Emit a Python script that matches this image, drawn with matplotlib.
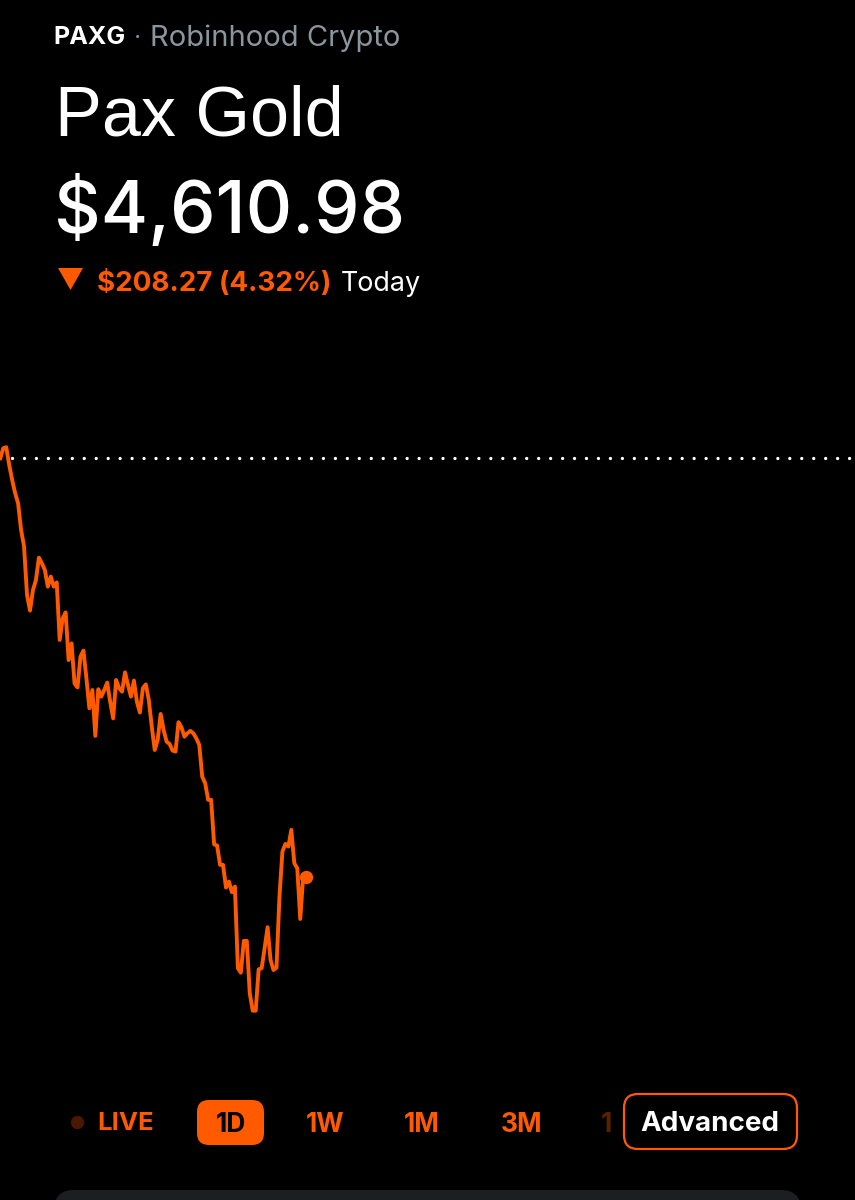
import matplotlib
matplotlib.use('Agg')
import matplotlib.pyplot as plt
from matplotlib.patches import FancyBboxPatch, Polygon

plt.rcParams['font.family'] = ['Inter', 'DejaVu Sans']
plt.rcParams['lines.scale_dashes'] = False

ORANGE = '#ff5a00'

symbol = 'PAXG'
source = 'Robinhood Crypto'
name = 'Pax Gold'
price_text = '$4,610.98'
change_text = '$208.27 (4.32%)'
prev_close = 4819.25

# one price every 5 minutes
prices = [
    4819.1, 4824.1, 4824.6, 4815.8, 4808.3, 4801.7, 4796.7, 4783.5, 4775.2, 4751.1,
    4743.4, 4753.6, 4758.6, 4769.7, 4766.9, 4763.6, 4755.3, 4760.3, 4755.3, 4757.4,
    4728.8, 4739.5, 4742.5, 4718.8, 4727.1, 4707.2, 4705.2, 4720.5, 4723.5, 4709.7,
    4694.8, 4703.9, 4681.1, 4704.3, 4700.6, 4703.9, 4707.6, 4698.1, 4689.8, 4708.9,
    4704.8, 4703.1, 4712.7, 4706.4, 4700.6, 4708.6, 4698.1, 4692.7, 4704.8, 4706.7,
    4699.0, 4685.7, 4674.1, 4679.1, 4692.0, 4684.0, 4678.2, 4677.1, 4673.8, 4673.3,
    4687.9, 4685.4, 4680.7, 4682.4, 4683.6, 4682.4, 4679.9, 4676.6, 4660.8, 4657.5,
    4649.3, 4649.3, 4627.2, 4626.6, 4617.0, 4617.0, 4605.7, 4608.7, 4603.4, 4606.2,
    4565.6, 4563.4, 4579.2, 4579.2, 4553.2, 4544.5, 4544.5, 4565.1, 4565.6, 4575.5,
    4586.0, 4569.7, 4564.7, 4565.9, 4601.2, 4623.6, 4627.4, 4626.1, 4634.4, 4617.8,
    4615.3, 4590.1, 4611.2, 4610.98,
]

ranges = ['1W', '1M', '3M']
range_x = [325, 422, 522]

fig = plt.figure(figsize=(8.55, 12), dpi=100, facecolor='black')

# chart
ax = fig.add_axes([0, 0, 1, 1])
ax.set_facecolor('black')
ax.set_xlim(-0.1, 287.8)
ax.set_ylim(4450.4, 5046.9)
ax.axis('off')
ax.plot([3.9, 287.8], [prev_close, prev_close], color='white', lw=2.4,
        ls=(0, (0.01, 8.6)), dash_capstyle='round')
ax.plot(range(len(prices)), prices, color=ORANGE, lw=2.8, solid_joinstyle='round')
ax.plot(len(prices) - 1, prices[-1], 'o', color=ORANGE, ms=9.6, mew=0)

# screen elements, in pixels
ui = fig.add_axes([0, 0, 1, 1])
ui.set_xlim(0, 855)
ui.set_ylim(1200, 0)
ui.axis('off')
ui.patch.set_alpha(0)

ui.text(53, 38, symbol, color='white', fontsize=18, fontweight='bold', va='center')
ui.text(134, 38, '·', color='#8a969e', fontsize=18, va='center')
ui.text(150, 38, source, color='#8a969e', fontsize=21, va='center')
ui.text(55, 135, name, color='white', fontsize=50.5, va='baseline', family='Liberation Sans')
ui.text(54, 233, price_text, color='white', fontsize=52, fontweight='medium', va='baseline')
ui.add_patch(Polygon([(58, 268), (83, 268), (70.5, 290)], color=ORANGE, lw=0))
ui.text(97, 291, change_text, color=ORANGE, fontsize=20, fontweight='bold', va='baseline')
ui.text(341, 291, 'Today', color='white', fontsize=19.4, va='baseline')

# range selector
ui.plot(77, 1122, 'o', color='#4a1800', ms=9.6, mew=0)
ui.text(97, 1124, 'LIVE', color=ORANGE, fontsize=18.5, fontweight='bold', va='center')
ui.add_patch(FancyBboxPatch((197 + 12, 1100 + 12), 67 - 24, 45 - 24,
                            boxstyle='round,pad=12', fc=ORANGE, ec='none'))
ui.text(230.5, 1125, '1D', color='black', fontsize=19, fontweight='bold', va='center', ha='center')
for label, x in zip(ranges, range_x):
    ui.text(x, 1125, label, color=ORANGE, fontsize=19, fontweight='bold', va='center', ha='center')
ui.text(601, 1125, '1', color='#5a2000', fontsize=19, fontweight='bold', va='center')
ui.add_patch(FancyBboxPatch((624 + 14, 1094 + 14), 173 - 28, 55 - 28,
                            boxstyle='round,pad=14', fc='black', ec=ORANGE, lw=1.6))
ui.text(710, 1124, 'Advanced', color='white', fontsize=20, fontweight='bold', va='center', ha='center')

# panel cut off by the bottom edge
ui.add_patch(FancyBboxPatch((54 + 20, 1190 + 20), 747 - 40, 60,
                            boxstyle='round,pad=20', fc='#1c1e20', ec='none', clip_on=True))

fig.savefig('out.png', dpi=100, facecolor='black')
